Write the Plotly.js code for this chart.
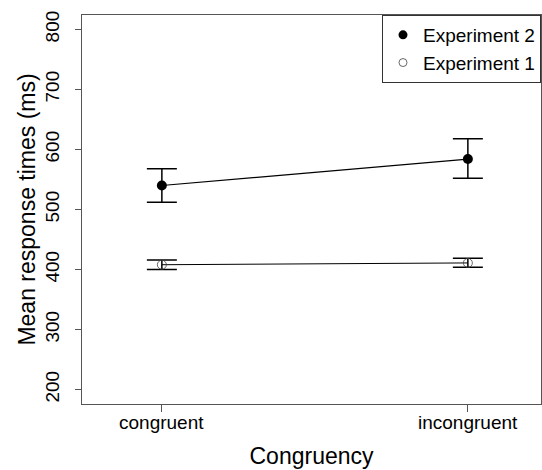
<!DOCTYPE html>
<html>
<head>
<meta charset="utf-8">
<script src="https://cdn.plot.ly/plotly-3.0.1.min.js"></script>
<style>html,body{margin:0;padding:0;background:#fff;}#chart{width:542px;height:470px;}</style>
</head>
<body>
<div id="chart"></div>
<script>
var categories = ['congruent', 'incongruent'];
var xPositions = [1, 2];

var exp2Mean  = [540, 584];
var exp2Upper = [568, 618];
var exp2Lower = [512, 552];

var exp1Mean  = [408, 411];
var exp1Upper = [416, 419];
var exp1Lower = [400, 404];

var seriesNames = ['Experiment 2', 'Experiment 1'];
var yTicks = [200, 300, 400, 500, 600, 700, 800];

function diff(a, b) { return a.map(function (v, i) { return v - b[i]; }); }

var FONT = 'Liberation Sans, Arial, Helvetica, sans-serif';

var traces = [
  {
    x: xPositions, y: exp2Mean, type: 'scatter', mode: 'lines+markers',
    name: seriesNames[0], showlegend: false,
    line: {color: '#000', width: 1.2},
    marker: {symbol: 'circle', size: 10, color: '#000'},
    error_y: {type: 'data', symmetric: false,
      array: diff(exp2Upper, exp2Mean), arrayminus: diff(exp2Mean, exp2Lower),
      color: '#000', thickness: 1.5, width: 15}
  },
  {
    x: xPositions, y: exp1Mean, type: 'scatter', mode: 'lines+markers',
    name: seriesNames[1], showlegend: false,
    line: {color: '#000', width: 1},
    marker: {symbol: 'circle-open', size: 9, color: '#444', line: {width: 0.8}},
    error_y: {type: 'data', symmetric: false,
      array: diff(exp1Upper, exp1Mean), arrayminus: diff(exp1Mean, exp1Lower),
      color: '#000', thickness: 1.5, width: 15}
  },
  {
    x: [null], y: [null], type: 'scatter', mode: 'markers', name: seriesNames[0],
    marker: {symbol: 'circle', size: 9, color: '#000'}
  },
  {
    x: [null], y: [null], type: 'scatter', mode: 'markers', name: seriesNames[1],
    marker: {symbol: 'circle-open', size: 8, color: '#444', line: {width: 0.8}}
  }
];

var tickAnnotations = categories.map(function (c, i) {
  return {
    x: xPositions[i], xref: 'x', y: 0, yref: 'paper',
    text: c, showarrow: false, xanchor: 'center', yanchor: 'middle', yshift: -18,
    font: {family: FONT, size: 19, color: '#000'}
  };
});

var layout = {
  width: 542, height: 470,
  margin: {l: 82, r: 1, t: 15, b: 66},
  paper_bgcolor: '#fff', plot_bgcolor: '#fff',
  font: {family: FONT, color: '#000', size: 19},
  showlegend: true,
  legend: {
    x: 1, xanchor: 'right', y: 1, yanchor: 'top',
    bgcolor: '#fff', bordercolor: '#333', borderwidth: 1,
    font: {family: FONT, size: 19, color: '#000'},
    traceorder: 'normal', tracegroupgap: 0, itemwidth: 30
  },
  annotations: tickAnnotations,
  xaxis: {
    range: [0.739, 2.239],
    tickmode: 'array', tickvals: xPositions, ticktext: categories,
    showticklabels: false,
    showgrid: false, zeroline: false,
    showline: true, mirror: true, linecolor: '#555', linewidth: 1,
    ticks: 'outside', ticklen: 7, tickcolor: '#555', tickwidth: 1,
    title: {text: 'Congruency', font: {family: FONT, size: 23, color: '#000'}, standoff: 36}
  },
  yaxis: {
    range: [176, 824],
    tickmode: 'array', tickvals: yTicks,
    tickangle: -90,
    showgrid: false, zeroline: false,
    showline: true, mirror: true, linecolor: '#555', linewidth: 1,
    ticks: 'outside', ticklen: 6, tickcolor: '#555', tickwidth: 1,
    ticklabelstandoff: 8,
    tickfont: {family: FONT, size: 19, color: '#000'},
    title: {text: 'Mean response times (ms)', font: {family: FONT, size: 23, color: '#000'}, standoff: 0}
  }
};

Plotly.newPlot('chart', traces, layout, {displayModeBar: false, staticPlot: true});
</script>
</body>
</html>
